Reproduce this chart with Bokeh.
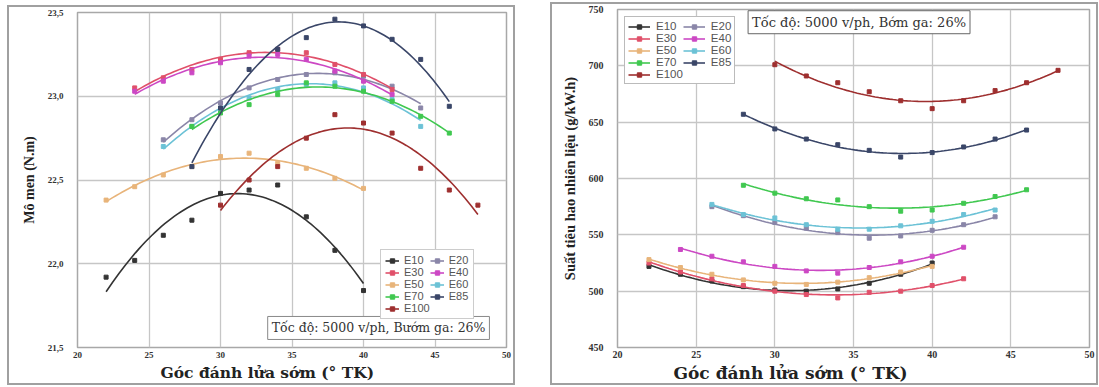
import numpy as np
from bokeh.plotting import figure
from bokeh.layouts import row
from bokeh.models import FixedTicker, Legend, LegendItem, Label, Range1d, Title
from bokeh.embed import file_html
from bokeh.resources import INLINE

# ---- data -------------------------------------------------------------
blends = ["E10", "E20", "E30", "E40", "E50", "E60", "E70", "E85", "E100"]
x_ticks = [20, 25, 30, 35, 40, 45, 50]

# ignition advance angles (deg BTDC) used for each blend
angles_22_40 = [22, 24, 26, 28, 30, 32, 34, 36, 38, 40]
angles_22_42 = [22, 24, 26, 28, 30, 32, 34, 36, 38, 40, 42]
angles_24_42 = [24, 26, 28, 30, 32, 34, 36, 38, 40, 42]
angles_26_44 = [26, 28, 30, 32, 34, 36, 38, 40, 42, 44]
angles_28_46 = [28, 30, 32, 34, 36, 38, 40, 42, 44, 46]
angles_30_48 = [30, 32, 34, 36, 38, 40, 42, 44, 46, 48]

# engine torque (N.m)
torque_e10 = [21.92, 22.02, 22.17, 22.26, 22.42, 22.44, 22.47, 22.28, 22.08, 21.84]
torque_e20 = [22.74, 22.86, 22.96, 23.05, 23.10, 23.13, 23.14, 23.12, 23.06, 22.93]
torque_e30 = [23.05, 23.11, 23.16, 23.22, 23.26, 23.28, 23.26, 23.19, 23.13, 23.04]
torque_e40 = [23.03, 23.09, 23.14, 23.20, 23.24, 23.25, 23.22, 23.15, 23.09, 23.01]
torque_e50 = [22.38, 22.46, 22.53, 22.58, 22.64, 22.66, 22.60, 22.57, 22.51, 22.45]
torque_e60 = [22.70, 22.82, 22.92, 22.99, 23.04, 23.07, 23.08, 23.05, 22.98, 22.82]
torque_e70 = [22.82, 22.90, 22.95, 23.01, 23.08, 23.06, 23.03, 22.97, 22.88, 22.78]
torque_e85 = [22.58, 22.93, 23.16, 23.28, 23.35, 23.46, 23.42, 23.34, 23.22, 22.94]
torque_e100 = [22.35, 22.50, 22.58, 22.75, 22.89, 22.84, 22.78, 22.57, 22.44, 22.35]

# brake specific fuel consumption (g/kW.h)
bsfc_e10 = [522, 515, 509, 504, 501, 500, 502, 507, 515, 525]
bsfc_e20 = [575, 567, 561, 556, 552, 547, 549, 554, 559, 566]
bsfc_e30 = [525, 517, 511, 505, 500, 497, 494, 499, 500, 505, 511]
bsfc_e40 = [537, 531, 526, 522, 518, 516, 521, 526, 531, 539]
bsfc_e50 = [528, 521, 515, 510, 507, 506, 508, 512, 517, 522]
bsfc_e60 = [577, 568, 565, 559, 555, 555, 558, 562, 568, 572]
bsfc_e70 = [594, 587, 582, 581, 575, 571, 572, 578, 584, 590]
bsfc_e85 = [657, 644, 635, 630, 625, 619, 623, 628, 635, 643]
bsfc_e100 = [701, 691, 685, 677, 669, 662, 669, 678, 685, 696]

torque_series = {
    "E10": (angles_22_40, torque_e10),
    "E20": (angles_26_44, torque_e20),
    "E30": (angles_24_42, torque_e30),
    "E40": (angles_24_42, torque_e40),
    "E50": (angles_22_40, torque_e50),
    "E60": (angles_26_44, torque_e60),
    "E70": (angles_28_46, torque_e70),
    "E85": (angles_28_46, torque_e85),
    "E100": (angles_30_48, torque_e100),
}
bsfc_series = {
    "E10": (angles_22_40, bsfc_e10),
    "E20": (angles_26_44, bsfc_e20),
    "E30": (angles_22_42, bsfc_e30),
    "E40": (angles_24_42, bsfc_e40),
    "E50": (angles_22_40, bsfc_e50),
    "E60": (angles_26_44, bsfc_e60),
    "E70": (angles_28_46, bsfc_e70),
    "E85": (angles_28_46, bsfc_e85),
    "E100": (angles_30_48, bsfc_e100),
}

colors = {
    "E10": "#333333",
    "E20": "#8a86a8",
    "E30": "#e0506a",
    "E40": "#cc48c4",
    "E50": "#e8b47a",
    "E60": "#6cc2d6",
    "E70": "#40c850",
    "E85": "#3a4668",
    "E100": "#9e2f2f",
}

SERIF = "Liberation Serif"
WIDE_SERIF = "DejaVu Serif"
SANS = "Liberation Sans"
XLABEL = "Góc đánh lửa sớm (° TK)"
# column-major order so the two legend columns read E10 E20 / E30 E40 / ...
legend_order = ["E10", "E30", "E50", "E70", "E100", "E20", "E40", "E60", "E85"]


def quad_trend(xs, ys):
    coef = np.polyfit(xs, ys, 2)
    xx = np.linspace(min(xs), max(xs), 80)
    return xx, np.polyval(coef, xx)


def make_panel(series, y_lo, y_hi, y_ticks, y_tick_text, y_label, width, height,
               borders, tick_size, ylabel_size, x_standoff, xtitle_size, xtitle_offset):
    p = figure(width=width, height=height, output_backend="svg", toolbar_location=None,
               x_range=Range1d(20, 50), y_range=Range1d(y_lo, y_hi))
    p.min_border_left, p.min_border_right, p.min_border_top, p.min_border_bottom = borders
    p.background_fill_color = "white"
    p.border_fill_color = "white"
    p.outline_line_color = "#a8a8a8"
    p.outline_line_width = 1.5

    p.xaxis.ticker = FixedTicker(ticks=x_ticks)
    p.yaxis.ticker = FixedTicker(ticks=y_ticks)
    p.yaxis.major_label_overrides = {t: s for t, s in zip(y_ticks, y_tick_text)}
    for ax in (p.xaxis[0], p.yaxis[0]):
        ax.axis_line_color = None
        ax.major_tick_line_color = None
        ax.minor_tick_line_color = None
        ax.major_tick_out = 0
        ax.major_tick_in = 0
        ax.minor_tick_out = 0
        ax.major_label_text_font = SERIF
        ax.major_label_text_font_style = "bold"
        ax.major_label_text_font_size = tick_size
        ax.major_label_text_color = "#333333"
    p.xaxis.major_label_standoff = x_standoff
    p.yaxis.axis_label = y_label
    p.yaxis.axis_label_text_font = SERIF
    p.yaxis.axis_label_text_font_style = "bold"
    p.yaxis.axis_label_text_color = "#222222"
    p.yaxis.axis_label_text_font_size = ylabel_size
    p.yaxis.major_label_standoff = 14
    p.yaxis.axis_label_standoff = 8

    # x-axis title sits a little left of the frame centre
    p.add_layout(Title(text=XLABEL, align="left", offset=xtitle_offset, standoff=0,
                       text_font=WIDE_SERIF, text_font_style="bold",
                       text_font_size=xtitle_size, text_color="#222222"), "below")

    p.grid.grid_line_color = "#c6c6c6"
    p.grid.grid_line_width = 1.3

    items = {}
    for name in blends:
        xs, ys = series[name]
        tx, ty = quad_trend(xs, ys)
        ln = p.line(tx, ty, line_color=colors[name], line_width=1.6)
        sc = p.scatter(xs, ys, marker="square", size=4, fill_color=colors[name],
                       line_color=colors[name])
        items[name] = [ln, sc]
    legend = Legend(items=[LegendItem(label=n, renderers=items[n]) for n in legend_order],
                    ncols=2)
    legend.label_text_font = SANS
    legend.label_text_color = "#555555"
    legend.spacing = 0
    legend.background_fill_alpha = 1
    return p, legend


# ---- torque panel ------------------------------------------------------
p1, leg1 = make_panel(torque_series, 21.5, 23.5, [21.5, 22.0, 22.5, 23.0, 23.5],
                      ["21,5", "22,0", "22,5", "23,0", "23,5"], "Mô men (N.m)",
                      508, 380, (68, 11, 5, 39), "9px", "14px", 4, "15.5px", 83)
leg1.location = (303, 28)
leg1.label_text_font_size = "11px"
leg1.label_height = 11
leg1.glyph_height = 11
leg1.glyph_width = 14
leg1.label_standoff = 5
leg1.padding = 4
leg1.margin = 0
leg1.border_line_color = "#999999"
p1.add_layout(leg1)
p1.add_layout(Label(x=33.3, y=21.548, text="Tốc độ: 5000 v/ph, Bướm ga: 26%",
                    text_font=WIDE_SERIF, text_font_size="12.5px", text_color="#333333",
                    border_line_color="#888888", background_fill_color="white",
                    padding=4))
p1.margin = (5, 35, 2, 7)
p1.styles = {"border": "2px solid #a0a0a0", "box-sizing": "border-box"}

# ---- BSFC panel --------------------------------------------------------
p2, leg2 = make_panel(bsfc_series, 450, 750, [450, 500, 550, 600, 650, 700, 750],
                      ["450", "500", "550", "600", "650", "700", "750"],
                      "Suất tiêu hao nhiên liệu (g/kW.h)",
                      548, 383, (65, 11, 3, 40), "10px", "14.5px", 3, "17px", 56)
leg2.location = "top_left"
leg2.margin = 7
leg2.label_text_font_size = "11.5px"
leg2.label_height = 11
leg2.glyph_height = 11
leg2.glyph_width = 22
leg2.label_standoff = 6
leg2.padding = 3
leg2.border_line_color = "#777777"
p2.add_layout(leg2)
p2.add_layout(Label(x=28.3, y=728.5, text="Tốc độ: 5000 v/ph, Bớm ga: 26%",
                    text_font=WIDE_SERIF, text_font_size="13px", text_color="#333333",
                    border_line_color="#666666", background_fill_color="white",
                    padding=4))
p2.margin = (2, 0, 0, 0)
p2.styles = {"border": "2px solid #a0a0a0", "box-sizing": "border-box"}

layout = row(p1, p2)
open("out.html", "w").write(file_html(layout, INLINE))
